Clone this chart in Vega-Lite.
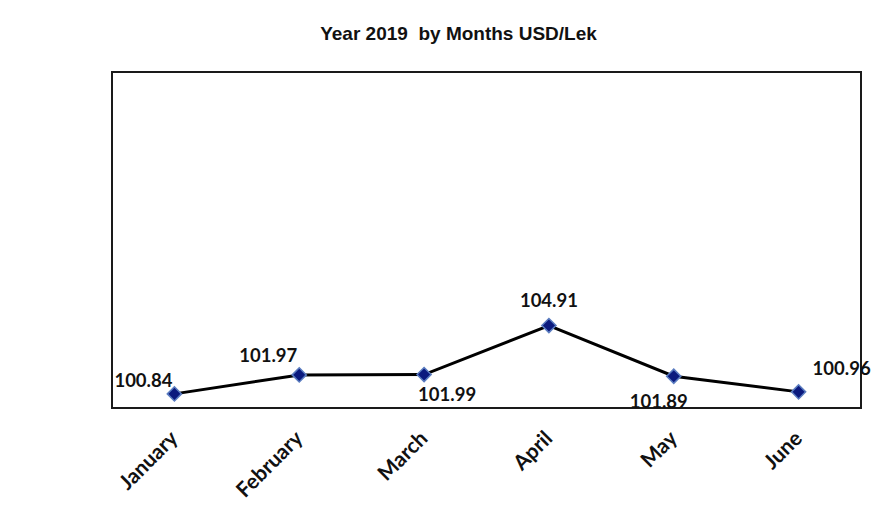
{
  "$schema": "https://vega.github.io/schema/vega-lite/v6.json",
  "autosize": {"type": "none"},
  "padding": {"left": 112, "top": 72, "right": 27, "bottom": 106},
  "width": 749,
  "height": 336,
  "background": "white",
  "title": {
    "text": "Year 2019\u00a0 by Months USD/Lek",
    "font": "Liberation Sans",
    "fontSize": 19,
    "fontWeight": "bold",
    "color": "#111111",
    "anchor": "middle",
    "dx": -28,
    "baseline": "alphabetic",
    "offset": 13
  },
  "config": {
    "view": {"stroke": "#1a1a1a", "strokeWidth": 2},
    "font": "Lato"
  },
  "data": {
    "values": [
      {"month": "January", "value": 100.84},
      {"month": "February", "value": 101.97},
      {"month": "March", "value": 101.99},
      {"month": "April", "value": 104.91},
      {"month": "May", "value": 101.89},
      {"month": "June", "value": 100.96}
    ]
  },
  "encoding": {
    "x": {
      "field": "month",
      "type": "nominal",
      "sort": null,
      "scale": {"paddingInner": 0, "paddingOuter": 0},
      "axis": {
        "title": null,
        "labelAngle": -45,
        "labelAlign": "right",
        "labelBaseline": "middle",
        "labelFont": "Lato",
        "labelFontWeight": "bold",
        "labelFontSize": 21,
        "labelColor": "#111111",
        "labelPadding": 27,
        "ticks": false,
        "domain": false,
        "grid": false
      }
    },
    "y": {
      "field": "value",
      "type": "quantitative",
      "scale": {"domain": [100, 120], "zero": false, "nice": false},
      "axis": null
    }
  },
  "layer": [
    {"mark": {"type": "line", "color": "#000000", "strokeWidth": 3}},
    {"mark": {"type": "point", "shape": "diamond", "filled": true, "size": 200, "fill": "#0b1a7e", "stroke": "#5a7cc0", "strokeWidth": 1.5, "opacity": 1}},
    {"transform": [{"filter": "datum.month === 'January'"}], "mark": {"type": "text", "font": "Lato", "fontWeight": "bold", "fontSize": 18.5, "color": "#111111", "align": "center", "baseline": "middle", "dx": -31, "dy": -13}, "encoding": {"text": {"field": "value", "type": "quantitative", "format": ".2f"}}},
    {"transform": [{"filter": "datum.month === 'February'"}], "mark": {"type": "text", "font": "Lato", "fontWeight": "bold", "fontSize": 18.5, "color": "#111111", "align": "center", "baseline": "middle", "dx": -31, "dy": -19}, "encoding": {"text": {"field": "value", "type": "quantitative", "format": ".2f"}}},
    {"transform": [{"filter": "datum.month === 'March'"}], "mark": {"type": "text", "font": "Lato", "fontWeight": "bold", "fontSize": 18.5, "color": "#111111", "align": "center", "baseline": "middle", "dx": 23, "dy": 20}, "encoding": {"text": {"field": "value", "type": "quantitative", "format": ".2f"}}},
    {"transform": [{"filter": "datum.month === 'April'"}], "mark": {"type": "text", "font": "Lato", "fontWeight": "bold", "fontSize": 18.5, "color": "#111111", "align": "center", "baseline": "middle", "dx": 0, "dy": -25}, "encoding": {"text": {"field": "value", "type": "quantitative", "format": ".2f"}}},
    {"transform": [{"filter": "datum.month === 'May'"}], "mark": {"type": "text", "font": "Lato", "fontWeight": "bold", "fontSize": 18.5, "color": "#111111", "align": "center", "baseline": "middle", "dx": -15, "dy": 26}, "encoding": {"text": {"field": "value", "type": "quantitative", "format": ".2f"}}},
    {"transform": [{"filter": "datum.month === 'June'"}], "mark": {"type": "text", "font": "Lato", "fontWeight": "bold", "fontSize": 18.5, "color": "#111111", "align": "center", "baseline": "middle", "dx": 43, "dy": -23}, "encoding": {"text": {"field": "value", "type": "quantitative", "format": ".2f"}}}
  ]
}
